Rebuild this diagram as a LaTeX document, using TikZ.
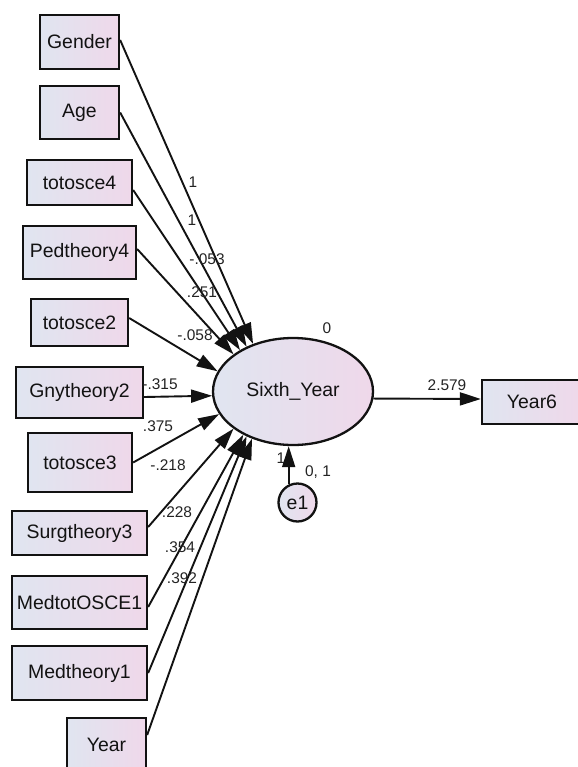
\documentclass[tikz,border=0pt]{standalone}
\usepackage{fontspec}
\setmainfont{Liberation Sans}
\usetikzlibrary{arrows.meta,shapes.geometric}
\definecolor{shL}{RGB}{224,229,240}
\definecolor{shR}{RGB}{239,216,234}
\definecolor{ink}{RGB}{18,18,18}
\definecolor{lbltxt}{RGB}{35,35,35}
\begin{document}
\begin{tikzpicture}[x=1bp,y=1bp,
  obs/.style={draw=ink, line width=2.3bp, left color=shL, right color=shR, inner sep=0pt,
    font=\fontsize{19.5}{22}\selectfont, text=ink},
  lat/.style={ellipse, draw=ink, line width=2.3bp, left color=shL, right color=shR, inner sep=0pt,
    font=\fontsize{19.5}{22}\selectfont, text=ink},
  arr/.style={-{Triangle[length=21bp,width=13bp]}, line width=1.9bp, draw=ink},
  lbl/.style={font=\fontsize{15.5}{17}\selectfont, text=lbltxt, inner sep=0pt}]
\useasboundingbox (0,0) rectangle (578,-767);
\clip (0,0) rectangle (578,-767);

% observed predictors
\node[obs, minimum width=79bp, minimum height=54bp] (gen) at (79.5,-42) {Gender};
\node[obs, minimum width=79bp, minimum height=53bp] (age) at (79.5,-112.5) {Age};
\node[obs, minimum width=105bp, minimum height=45bp] (tot4) at (79.5,-182.5) {totosce4};
\node[obs, minimum width=113bp, minimum height=53bp] (ped4) at (79.5,-252.5) {Pedtheory4};
\node[obs, minimum width=97bp, minimum height=47bp] (tot2) at (79.5,-322.5) {totosce2};
\node[obs, minimum width=127bp, minimum height=51bp] (gny2) at (79.5,-392.5) {Gnytheory2};
\node[obs, minimum width=104bp, minimum height=59bp] (tot3) at (80,-462.5) {totosce3};
\node[obs, minimum width=135bp, minimum height=44bp] (surg3) at (79.5,-533) {Surgtheory3};
\node[obs, minimum width=135bp, minimum height=53bp] (medo1) at (79.5,-602.5) {MedtotOSCE1};
\node[obs, minimum width=135bp, minimum height=54bp] (medt1) at (79.5,-673) {Medtheory1};
\node[obs, minimum width=79bp, minimum height=54bp] (year) at (106.5,-745) {Year};

% latent and outcome
\node[lat, minimum width=160bp, minimum height=107bp] (sy) at (293,-391.5) {Sixth\_Year};
\node[obs, minimum width=100bp, minimum height=44bp] (y6) at (532,-402) {Year6};
\node[obs, circle, minimum size=38bp] (e1) at (297.5,-502.5) {e1};

% paths
\draw[arr] ([yshift=2bp]gen.east) -- (sy.130);
\draw[arr] (age.east) -- (sy.136);
\draw[arr] ([yshift=-7.5bp]tot4.east) -- (sy.142);
\draw[arr] ([yshift=3.5bp]ped4.east) -- (sy.148);
\draw[arr] ([yshift=4.5bp]tot2.east) -- (sy.165);
\draw[arr] ([yshift=-4.5bp]gny2.east) -- (sy.183);
\draw[arr] (tot3.east) -- (sy.197);
\draw[arr] ([yshift=6bp]surg3.east) -- (sy.212);
\draw[arr] ([yshift=-4.5bp]medo1.east) -- (sy.221);
\draw[arr] (medt1.east) -- (sy.224);
\draw[arr] ([yshift=10bp]year.east) -- (sy.229);
\draw[arr] (sy.355) -- ([yshift=3bp]y6.west);
\draw[arr] (e1.116) -- (e1.116 |- sy.south);

% labels
\node[lbl] (l1) at (193,-182) {1};
\node[lbl] (l2) at (192,-220) {1};
\node[lbl] (l3) at (207,-259) {-.053};
\node[lbl] (l4) at (202,-292) {.251};
\node[lbl] (l5) at (195,-335) {-.058};
\node[lbl] (l6) at (160,-384) {-.315};
\node[lbl] (l7) at (158,-426) {.375};
\node[lbl] (l8) at (168,-465) {-.218};
\node[lbl] (l9) at (177,-512) {.228};
\node[lbl] (l10) at (180,-547) {.354};
\node[lbl] (l11) at (182,-578) {.392};
\node[lbl] (l12) at (327,-328) {0};
\node[lbl] (l13) at (447,-385) {2.579};
\node[lbl] (l14) at (281,-458) {1};
\node[lbl] (l15) at (318,-472) {0, 1};
\end{tikzpicture}
\end{document}
